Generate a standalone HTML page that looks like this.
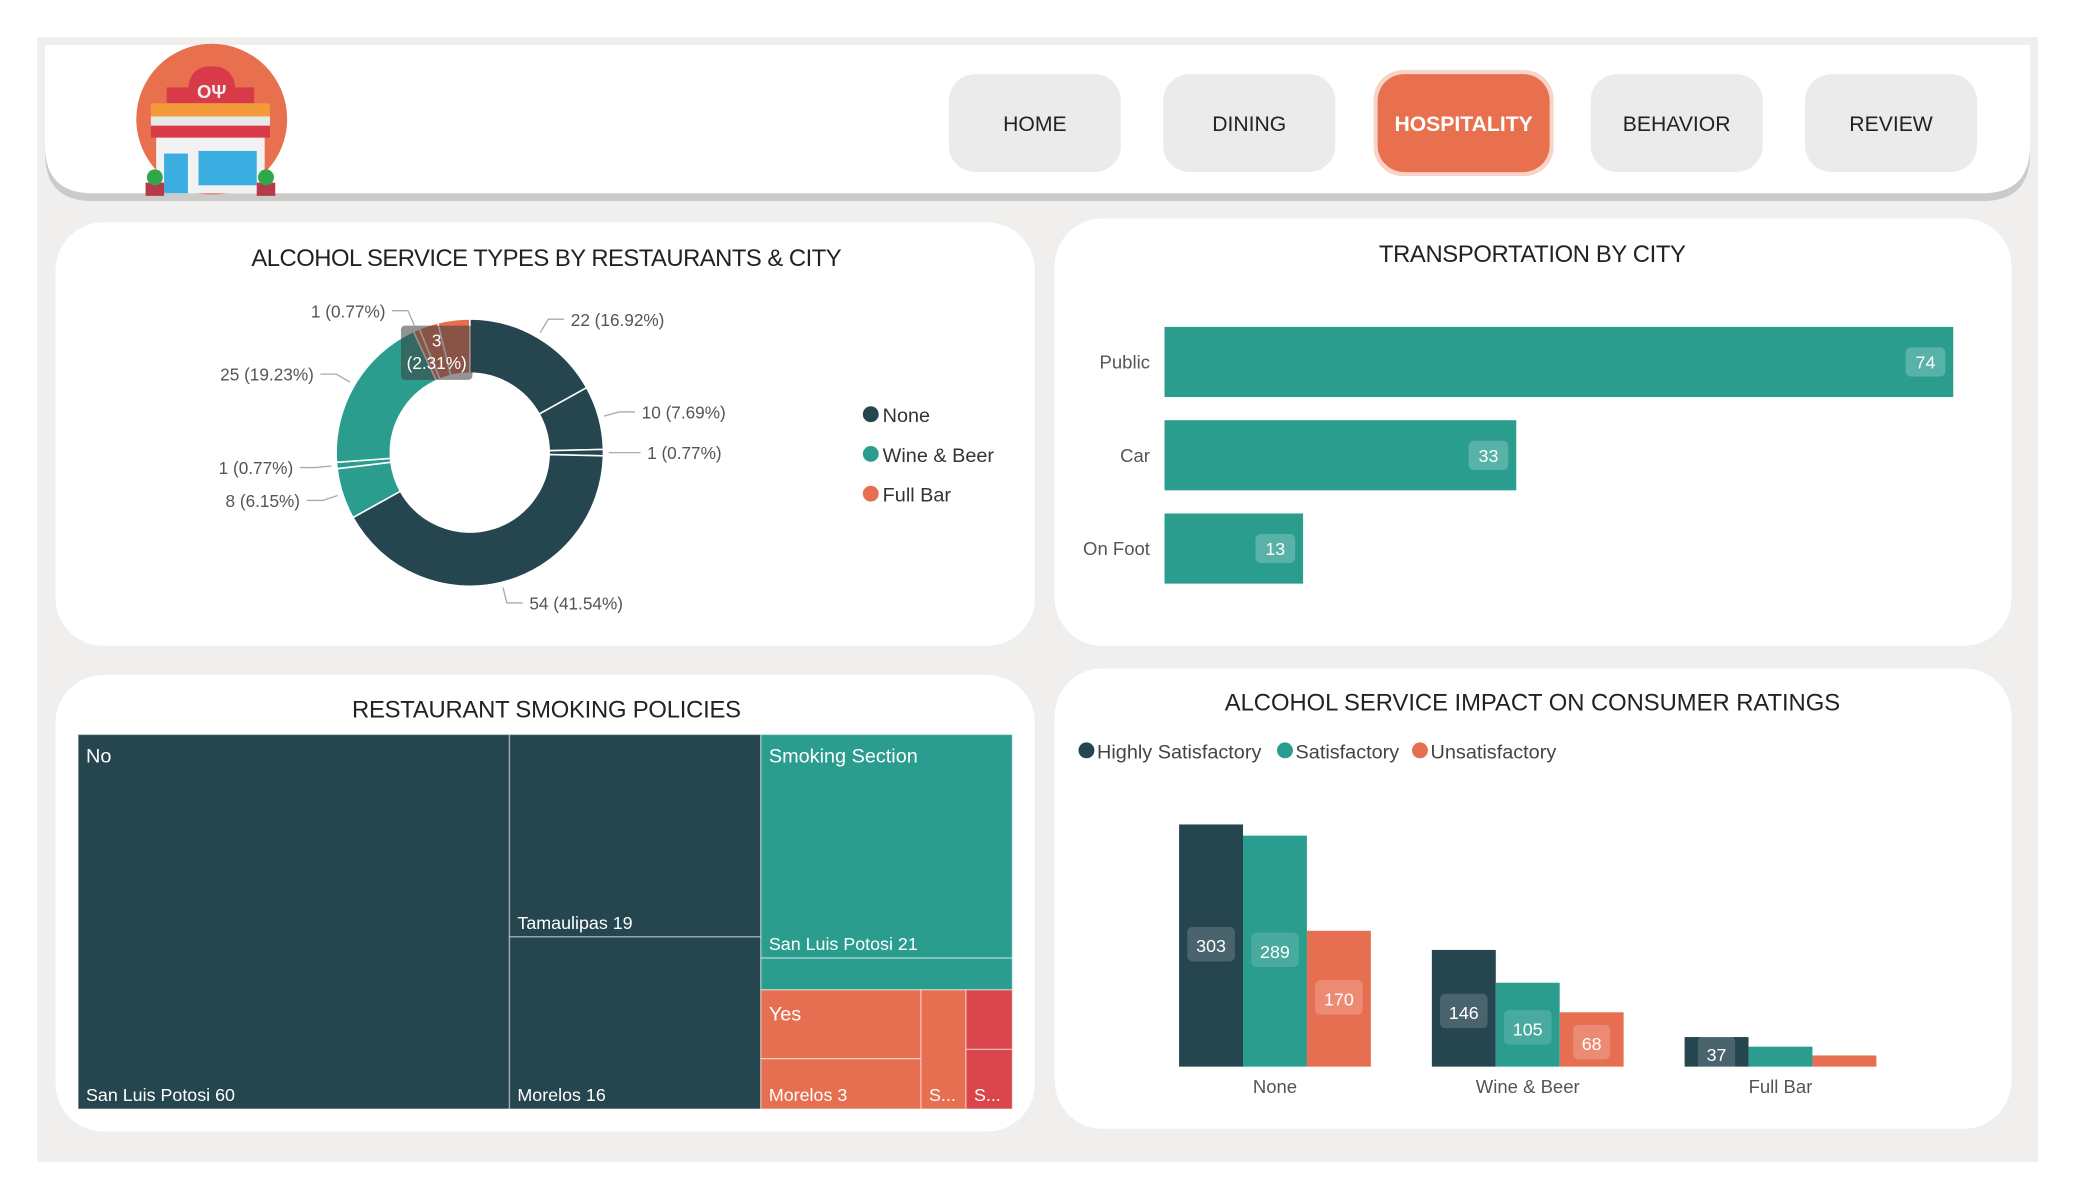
<!DOCTYPE html>
<html><head><meta charset="utf-8">
<style>
html,body{margin:0;padding:0;background:#fff;}
svg{display:block;font-family:"Liberation Sans",sans-serif;}
</style></head>
<body>
<svg id="root" width="2075" height="1200" viewBox="0 0 1568 906.75" xmlns="http://www.w3.org/2000/svg">
  <rect x="28" y="28" width="1512" height="850" fill="#f0efee"/>
  <!-- header -->
  <g>
    <path d="M34 40 H1534 V116 Q1534 152 1498 152 H70 Q34 152 34 116 Z" fill="#cbcbcb"/>
    <path d="M34 34 H1534 V110 Q1534 146 1498 146 H70 Q34 146 34 110 Z" fill="#fff"/>
  </g>
  <g>
    <circle cx="160" cy="90" r="57" fill="#e8704e"/>
    <path d="M142 70 Q142 50 160 50 Q178 50 178 70 Z" fill="#d83a4a"/>
    <rect x="126" y="66" width="66" height="12" fill="#d83a4a"/>
    <rect x="114" y="78" width="90" height="10" fill="#f39a3a"/>
    <rect x="114" y="88" width="90" height="7" fill="#e8e8e8"/>
    <rect x="114" y="95" width="90" height="9" fill="#d83a4a"/>
    <rect x="118" y="104" width="82" height="42" fill="#f2f2f2"/>
    <rect x="124" y="116" width="18" height="30" fill="#3aaee0"/>
    <rect x="150" y="114" width="44" height="26" fill="#3aaee0"/>
    <rect x="110" y="138" width="14" height="10" fill="#b8394a"/>
    <rect x="194" y="138" width="14" height="10" fill="#b8394a"/>
    <circle cx="117" cy="134" r="6" fill="#2ea84a"/>
    <circle cx="201" cy="134" r="6" fill="#2ea84a"/>
    <text x="160" y="74" font-size="14" font-weight="bold" fill="#eee" text-anchor="middle">ΟΨ</text>
  </g>
  <g>
    <rect x="717" y="56" width="130" height="74" rx="20" fill="#ebebeb"/>
    <text x="782" y="99" font-size="16" text-anchor="middle" fill="#222">HOME</text>
    <rect x="879" y="56" width="130" height="74" rx="20" fill="#ebebeb"/>
    <text x="944" y="99" font-size="16" text-anchor="middle" fill="#222">DINING</text>
    <rect x="1038" y="53" width="136" height="80" rx="22" fill="#f8d3c8"/>
    <rect x="1041" y="56" width="130" height="74" rx="20" fill="#e8704e"/>
    <text x="1106" y="99" font-size="16" font-weight="bold" text-anchor="middle" fill="#fff">HOSPITALITY</text>
    <rect x="1202" y="56" width="130" height="74" rx="20" fill="#ebebeb"/>
    <text x="1267" y="99" font-size="16" text-anchor="middle" fill="#222">BEHAVIOR</text>
    <rect x="1364" y="56" width="130" height="74" rx="20" fill="#ebebeb"/>
    <text x="1429" y="99" font-size="16" text-anchor="middle" fill="#222">REVIEW</text>
  </g>
  <!-- panels -->
  <rect x="42" y="168" width="740" height="320" rx="36" fill="#fff"/>
  <rect x="797" y="165" width="723" height="323" rx="36" fill="#fff"/>
  <rect x="42" y="510" width="740" height="345" rx="36" fill="#fff"/>
  <rect x="797" y="505" width="723" height="348" rx="36" fill="#fff"/>

  <text x="413" y="201" font-size="18" text-anchor="middle" fill="#222" textLength="446">ALCOHOL SERVICE TYPES BY RESTAURANTS &amp; CITY</text>
  <text x="1158" y="198" font-size="18" text-anchor="middle" fill="#222" textLength="232">TRANSPORTATION BY CITY</text>
  <text x="413" y="542" font-size="18" text-anchor="middle" fill="#222" textLength="294">RESTAURANT SMOKING POLICIES</text>
  <text x="1158" y="537" font-size="18" text-anchor="middle" fill="#222" textLength="465">ALCOHOL SERVICE IMPACT ON CONSUMER RATINGS</text>

  <g id="donut"></g>
  <g id="donut-legend">
    <circle cx="658" cy="313" r="6" fill="#25454f"/><text x="667" y="319" font-size="15" fill="#333">None</text>
    <circle cx="658" cy="343" r="6" fill="#2a9d8f"/><text x="667" y="349" font-size="15" fill="#333">Wine &amp; Beer</text>
    <circle cx="658" cy="373" r="6" fill="#e76f51"/><text x="667" y="379" font-size="15" fill="#333">Full Bar</text>
  </g>
  <g id="transport"></g>
  <g id="treemap"></g>
  <g id="ratings"></g>
  <g>
    <circle cx="821" cy="567" r="6" fill="#25454f"/><text x="829" y="573" font-size="15" fill="#444">Highly Satisfactory</text>
    <circle cx="971" cy="567" r="6" fill="#2a9d8f"/><text x="979" y="573" font-size="15" fill="#444">Satisfactory</text>
    <circle cx="1073" cy="567" r="6" fill="#e76f51"/><text x="1081" y="573" font-size="15" fill="#444">Unsatisfactory</text>
  </g>
</svg>
<script>
var NS="http://www.w3.org/2000/svg";
function mk(parent,tag,attrs,txt){var e=document.createElementNS(NS,tag);for(var k in attrs)e.setAttribute(k,attrs[k]);if(txt!==undefined)e.textContent=txt;parent.appendChild(e);return e;}
var C={dark:"#25454f",teal:"#2a9d8f",orange:"#e76f51",red:"#d9454a"};

// ---- Donut data ----
var donutValues=[22,10,1,54,8,1,25,1,3,5];
var donutCats=["None","None","None","None","Wine & Beer","Wine & Beer","Wine & Beer","Full Bar","Full Bar","Full Bar"];
var donutShowLabel=[true,true,true,true,true,true,true,true,false,false];
var donutColors={"None":C.dark,"Wine & Beer":C.teal,"Full Bar":C.orange};

(function(){
  var g=document.getElementById('donut');
  var cx=355,cy=342,R=101,r=60;
  var total=donutValues.reduce(function(a,b){return a+b;},0);
  var acc=0;
  function pt(rad,a){return [cx+rad*Math.sin(a),cy-rad*Math.cos(a)];}
  donutValues.forEach(function(v,i){
    var a0=acc/total*2*Math.PI; acc+=v; var a1=acc/total*2*Math.PI;
    var lg=(a1-a0)>Math.PI?1:0;
    var p0=pt(R,a0),p1=pt(R,a1),q1=pt(r,a1),q0=pt(r,a0);
    var s=mk(g,'path',{d:'M'+p0+' A'+R+' '+R+' 0 '+lg+' 1 '+p1+' L'+q1+' A'+r+' '+r+' 0 '+lg+' 0 '+q0+' Z',fill:donutColors[donutCats[i]],stroke:'#fff','stroke-width':1.2});
    
    
    if(donutShowLabel[i]){
      var am=(a0+a1)/2,e=pt(R+4,am),m=pt(R+16,am);
      var right=Math.sin(am)>=0;
      var ex=m[0]+(right?12:-12);
      mk(g,'polyline',{points:e+' '+m+' '+ex+','+m[1],fill:'none',stroke:'#aaa','stroke-width':1});
      var t=mk(g,'text',{x:ex+(right?5:-5),y:m[1]+5,'font-size':13,fill:'#555','text-anchor':right?'start':'end'},v+' ('+(v/total*100).toFixed(2)+'%)');
      
      
    }
  });
  var tip=mk(g,'rect',{x:303,y:246,width:54,height:41,rx:3,fill:'rgba(60,60,60,0.55)'});
  
  
  mk(g,'text',{x:330,y:262,'font-size':13,fill:'#fff','text-anchor':'middle'},'3');
  mk(g,'text',{x:330,y:279,'font-size':13,fill:'#fff','text-anchor':'middle'},'(2.31%)');
})();

// ---- Transportation data ----
var transCats=["Public","Car","On Foot"];
var transValues=[74,33,13];
(function(){
  var g=document.getElementById('transport');
  var x0=880,scale=596/74,top0=247,step=70.5,h=53;
  transCats.forEach(function(c,i){
    var y=top0+i*step,w=transValues[i]*scale;
    var b=mk(g,'rect',{x:x0,y:y,width:w,height:h,fill:C.teal});
    
    
    var l=mk(g,'text',{x:869,y:y+h/2+5,'font-size':14,fill:'#555','text-anchor':'end'},c);
    
    
    var s=String(transValues[i]),bw=14+s.length*8;
    mk(g,'rect',{x:x0+w-6-bw,y:y+h/2-11,width:bw,height:22,rx:4,fill:'rgba(255,255,255,0.22)'});
    var v=mk(g,'text',{x:x0+w-6-bw/2,y:y+h/2+5,'font-size':13.5,fill:'#fff','text-anchor':'middle'},s);
    
    
  });
})();

// ---- Treemap data ----
var tmLabels=["San Luis Potosi 60","Tamaulipas 19","Morelos 16","San Luis Potosi 21","","","Morelos 3","S...","","S..."];
var tmGroups=["No","No","No","Smoking Section","Smoking Section","Yes","Yes","Yes","Not Permitted","Not Permitted"];
(function(){
  var g=document.getElementById('treemap');
  var cells=[[59,555,326,283,C.dark],[385,555,190,153,C.dark],[385,708,190,130,C.dark],[575,555,190,169,C.teal],[575,724,190,24,C.teal],
             [575,748,121,52,C.orange],[575,800,121,38,C.orange],[696,748,34,90,C.orange],[730,748,35,45,C.red],[730,793,35,45,C.red]];
  cells.forEach(function(c,i){
    var r=mk(g,'rect',{x:c[0],y:c[1],width:c[2],height:c[3],fill:c[4],stroke:'rgba(255,255,255,0.45)','stroke-width':1});
    
    
    if(tmLabels[i]){
      var t=mk(g,'text',{x:c[0]+6,y:c[1]+c[3]-6,'font-size':13.5,fill:'#fff'},tmLabels[i]);
      
      
    }
  });
  [["No",65,576],["Smoking Section",581,576],["Yes",581,771]].forEach(function(h){
    var t=mk(g,'text',{x:h[1],y:h[2],'font-size':15,fill:'#fff'},h[0]);
    
    
  });
})();

// ---- Ratings data ----
var ratCats=["None","Wine & Beer","Full Bar"];
var ratHigh=[303,146,37];
var ratSat=[289,105,25];
var ratUnsat=[170,68,14];
(function(){
  var g=document.getElementById('ratings');
  var base=806,k=183/303,bw=48.3,groupStart=[891,1082,1273];
  var series=[[ratHigh,C.dark,'rgba(255,255,255,0.17)'],[ratSat,C.teal,'rgba(255,255,255,0.15)'],[ratUnsat,C.orange,'rgba(255,255,255,0.2)']];
  ratCats.forEach(function(cat,ci){
    series.forEach(function(s,si){
      var v=s[0][ci],h=v*k,x=groupStart[ci]+si*bw,y=base-h;
      var b=mk(g,'rect',{x:x,y:y,width:bw,height:h,fill:s[1]});
      
      
      if(h>20){
        var cy=y+h/2+(h<40?2:0), str=String(v), w=12+str.length*8;
        mk(g,'rect',{x:x+bw/2-w/2,y:cy-14+(ci==1?3:0),width:w,height:26,rx:4,fill:s[2]});
        var t=mk(g,'text',{x:x+bw/2,y:cy+5+(ci==1?3:0),'font-size':13.5,fill:'#fff','text-anchor':'middle'},str);
        
        
      }
    });
    var l=mk(g,'text',{x:groupStart[ci]+1.5*bw,y:826,'font-size':14,fill:'#555','text-anchor':'middle'},cat);
    
    
  });
})();
</script>
</body></html>
